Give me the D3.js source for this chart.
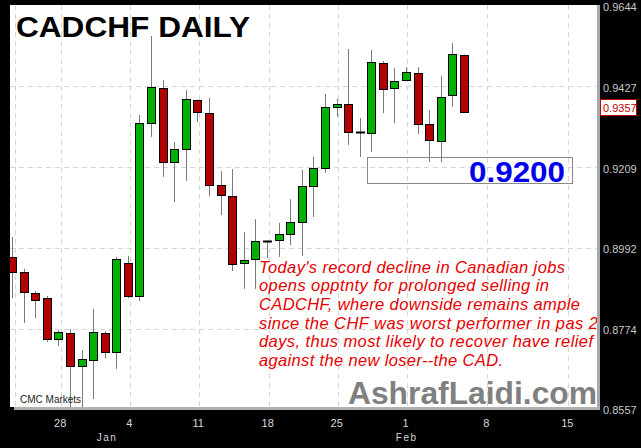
<!DOCTYPE html>
<html><head><meta charset="utf-8">
<script src="https://cdn.jsdelivr.net/npm/d3@7"></script>
<style>html,body{margin:0;padding:0;background:#000;}svg{display:block;}</style>
</head><body>
<script>
// ---- data ----
const opens  = [0.8967,0.8926,0.8870,0.8856,0.8746,0.8762,0.8673,0.8689,0.8762,0.8711,0.8951,0.8862,0.9328,0.9423,0.9223,0.9258,0.9390,0.9355,0.9161,0.9131,0.8951,0.8962,0.9010,0.9013,0.9029,0.9061,0.9158,0.9207,0.9372,0.9380,0.9304,0.9301,0.9490,0.9423,0.9444,0.9463,0.9326,0.9280,0.9404,0.9512];
const highs  = [0.9021,0.8935,0.8875,0.8862,0.8770,0.8773,0.8716,0.8827,0.8767,0.8967,0.8970,0.9350,0.9563,0.9444,0.9277,0.9417,0.9392,0.9396,0.9199,0.9204,0.9034,0.9069,0.9012,0.9059,0.9123,0.9202,0.9237,0.9407,0.9393,0.9528,0.9342,0.9525,0.9496,0.9477,0.9479,0.9479,0.9363,0.9455,0.9544,0.9513];
const lows   = [0.8856,0.8789,0.8802,0.8738,0.8727,0.8562,0.8562,0.8584,0.8694,0.8665,0.8856,0.8848,0.9291,0.9183,0.9115,0.9172,0.9331,0.9131,0.9080,0.8929,0.8881,0.8881,0.8964,0.8967,0.8999,0.8970,0.9075,0.9194,0.9345,0.9269,0.9237,0.9250,0.9355,0.9328,0.9444,0.9299,0.9223,0.9223,0.9372,0.9357];
const closes = [0.8926,0.8873,0.8851,0.8746,0.8765,0.8673,0.8692,0.8765,0.8711,0.8962,0.8862,0.9328,0.9426,0.9223,0.9258,0.9393,0.9358,0.9161,0.9134,0.8948,0.8959,0.9010,0.9010,0.9029,0.9061,0.9158,0.9207,0.9372,0.9380,0.9304,0.9304,0.9493,0.9420,0.9442,0.9466,0.9326,0.9283,0.9399,0.9515,0.9357];
const priceTicks = [0.9644,0.9427,0.9209,0.8992,0.8774,0.8557];
const dayTickIdx = [0.25,4.25,10.2,16.15,22.15,28.1,34.05,41,48];
const dayTickLabels = ["","28","4","11","18","25","1","8","15"];
const monthIdx = [8.2,34.05];
const monthLabels = ["Jan","Feb"];
const lastPrice = 0.9357;
const levelLabel = "0.9200";
const title = "CADCHF DAILY";
const noteLines = [
 "Today's record decline in Canadian jobs",
 "opens opptnty for prolonged selling in",
 "CADCHF, where downside remains ample",
 "since the CHF was worst performer in pas 2",
 "days, thus most likely to recover have relief",
 "against the new loser--the CAD."
];

// ---- drawing ----
const W = 641, H = 448;
const L = 10, R = 597, T = 5, B = 407;
const svg = d3.select("body").append("svg").attr("width", W).attr("height", H)
  .style("font-family", "'Liberation Sans', Arial, sans-serif");
svg.append("rect").attr("width", W).attr("height", H).attr("fill", "#000");
svg.append("rect").attr("x", L).attr("y", T).attr("width", R - L).attr("height", B - T).attr("fill", "#fff");
svg.append("defs").append("clipPath").attr("id", "clip")
  .append("rect").attr("x", L).attr("y", T).attr("width", R - L).attr("height", B - T);

const x = d3.scaleLinear().domain([-0.17, 50.47]).range([L, R]);
const y = d3.scaleLinear().domain([0.8557, 0.9644]).range([409, 6]);

const plot = svg.append("g").attr("clip-path", "url(#clip)");
// grid
plot.selectAll(".vg").data(dayTickIdx).join("line")
  .attr("x1", d => Math.round(x(d)) + 0.5).attr("x2", d => Math.round(x(d)) + 0.5)
  .attr("y1", T).attr("y2", B).attr("stroke", "#d6d6d6").attr("stroke-dasharray", "5,4");
plot.selectAll(".hg").data(priceTicks.slice(1, -1)).join("line")
  .attr("y1", d => Math.round(y(d)) + 0.5).attr("y2", d => Math.round(y(d)) + 0.5)
  .attr("x1", L).attr("x2", R).attr("stroke", "#d6d6d6").attr("stroke-dasharray", "5,4");

// candles
const idx = d3.range(opens.length);
plot.selectAll(".wick").data(idx).join("line")
  .attr("x1", i => Math.round(x(i)) + 0.5).attr("x2", i => Math.round(x(i)) + 0.5)
  .attr("y1", i => y(highs[i])).attr("y2", i => y(lows[i]))
  .attr("stroke", "#7a7a7a").attr("stroke-width", 1);
const bw = 8;
idx.forEach(i => {
  const o = opens[i], c = closes[i];
  const cx = Math.round(x(i));
  if (Math.abs(o - c) < 0.00005) {
    plot.append("line").attr("x1", cx - bw / 2).attr("x2", cx + bw / 2 + 1)
      .attr("y1", Math.round(y(o)) + 0.5).attr("y2", Math.round(y(o)) + 0.5)
      .attr("stroke", "#000").attr("stroke-width", 2);
  } else {
    const top = y(Math.max(o, c)), bot = y(Math.min(o, c));
    plot.append("rect").attr("x", cx - bw / 2 + 0.5).attr("y", Math.round(top) + 0.5)
      .attr("width", bw).attr("height", Math.max(1, Math.round(bot - top)))
      .attr("fill", c > o ? "#00b000" : "#b30000")
      .attr("stroke", "#000").attr("stroke-width", 1);
  }
});

// title
svg.append("text").attr("x", 16).attr("y", 37).text(title)
  .attr("font-size", 29).attr("font-weight", "bold").attr("fill", "#000")
  .attr("textLength", 234).attr("lengthAdjust", "spacingAndGlyphs");

// 0.9200 box
svg.append("rect").attr("x", 367.5).attr("y", 157.5).attr("width", 205).attr("height", 26)
  .attr("fill", "none").attr("stroke", "#888");
svg.append("text").attr("x", 565).attr("y", 182).attr("text-anchor", "end").text(levelLabel)
  .attr("font-size", 29).attr("font-weight", "bold").attr("fill", "#0000ee")
  .attr("textLength", 96).attr("lengthAdjust", "spacingAndGlyphs");

// annotation
const noteWidths = [306, 290, 321, 339, 334, 244];
svg.append("g").selectAll("text").data(noteLines).join("text")
  .attr("x", 259).attr("y", (d, i) => 272.6 + i * 18.7)
  .attr("font-size", 16.5).attr("font-style", "italic").attr("fill", "#e60000")
  .attr("textLength", (d, i) => noteWidths[i]).attr("lengthAdjust", "spacing")
  .text(d => d);

// watermark
svg.append("text").attr("x", 348).attr("y", 404).text("AshrafLaidi.com")
  .attr("font-size", 31).attr("font-weight", "bold").attr("fill", "#808080")
  .attr("textLength", 249).attr("lengthAdjust", "spacingAndGlyphs");

svg.append("text").attr("x", 20).attr("y", 403).text("CMC Markets")
  .attr("font-size", 10).attr("fill", "#222");

// frame strips
svg.append("rect").attr("x", R).attr("y", T).attr("width", 3).attr("height", B - T + 3).attr("fill", "#a8a8a8");
svg.append("rect").attr("x", 14).attr("y", B).attr("width", R - 14 + 3).attr("height", 3).attr("fill", "#b0b0b0");

// right axis
svg.append("g").selectAll("text").data(priceTicks).join("text")
  .attr("x", 603).attr("y", d => y(d) + 1.5).attr("dy", "0.35em")
  .attr("font-size", 11).attr("fill", "#c8c8c8").text(d => d.toFixed(4));
const ly = y(lastPrice);
svg.append("rect").attr("x", 600.5).attr("y", Math.round(ly) - 12.5).attr("width", 36).attr("height", 16)
  .attr("fill", "#fff").attr("stroke", "#c00000");
svg.append("text").attr("x", 603).attr("y", Math.round(ly) - 4).attr("dy", "0.35em")
  .attr("font-size", 11).attr("fill", "#c00000").text(lastPrice.toFixed(4));

// bottom axis
svg.append("g").selectAll("text").data(dayTickIdx).join("text")
  .attr("x", d => x(d) - 1).attr("y", 427).attr("text-anchor", "middle")
  .attr("font-size", 11).attr("fill", "#d8d8d8").text((d, i) => dayTickLabels[i]);
svg.append("g").selectAll("text").data(monthIdx).join("text")
  .attr("x", d => x(d)).attr("y", 441).attr("text-anchor", "middle")
  .attr("font-size", 10).attr("letter-spacing", "1.5px").attr("fill", "#d8d8d8").text((d, i) => monthLabels[i]);
</script>
</body></html>
